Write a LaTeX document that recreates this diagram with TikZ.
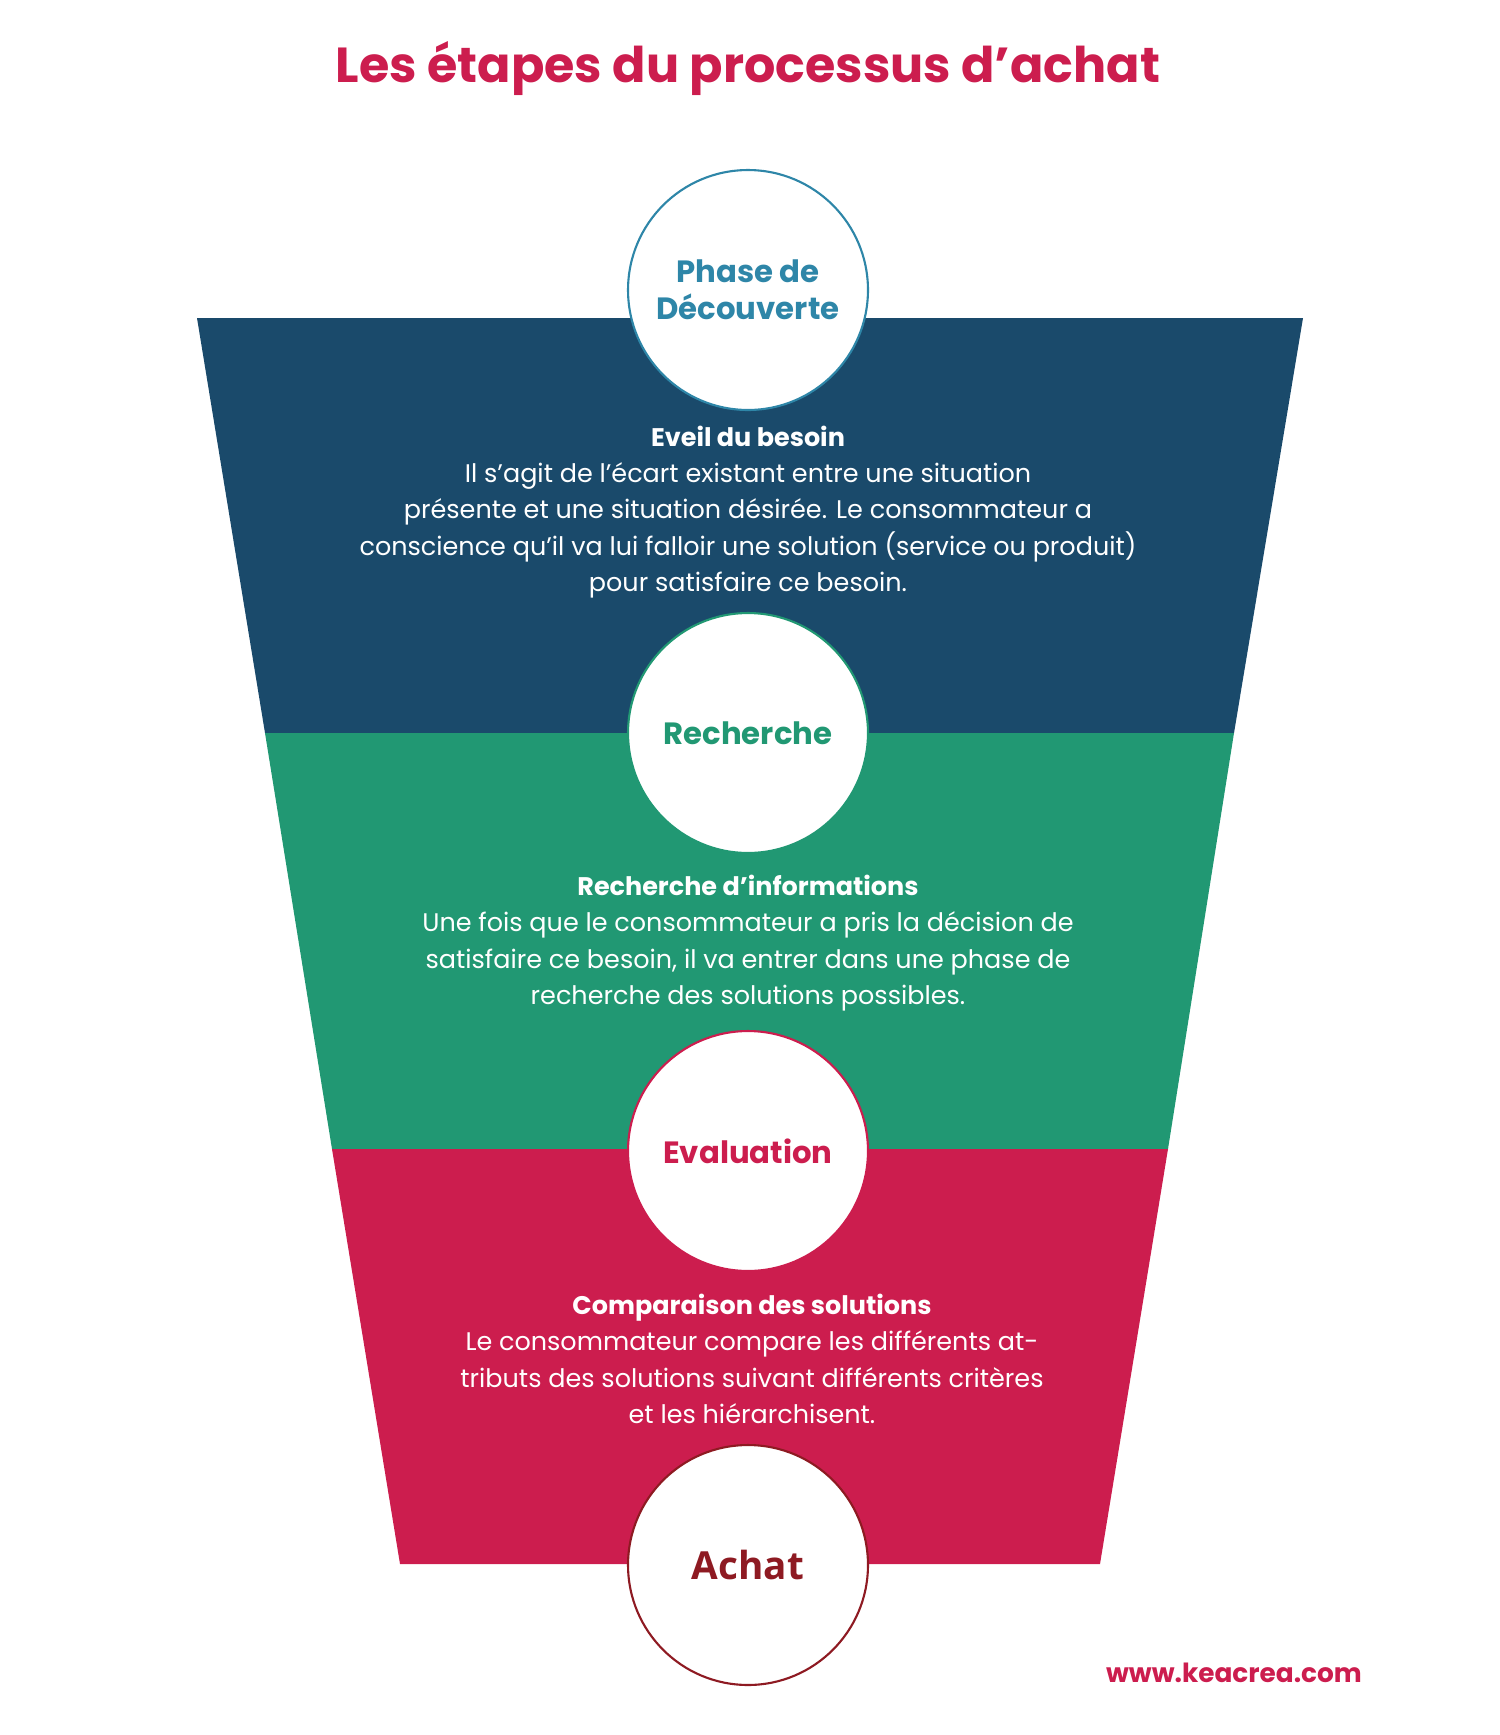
\documentclass[tikz,border=0pt]{standalone}
\usepackage{fontspec}
\setmainfont{Poppins}
\newfontfamily\achatfont{Open Sans}
\definecolor{navy}{HTML}{1A4A6B}
\definecolor{vert}{HTML}{219873}
\definecolor{rouge}{HTML}{CC1D4E}
\definecolor{bleu}{HTML}{2E86A8}
\definecolor{bordeaux}{HTML}{8E1A22}
\begin{document}
\begin{tikzpicture}[x=0.02cm,y=-0.02cm]
		\tikzstyle{phase}=[draw,shape=circle,fill=white,line width=1.2pt,minimum size=4.8cm,inner sep=0pt,align=center,font=\fontsize{17.5}{21}\selectfont\bfseries]
		\tikzstyle{corps}=[white,align=center,font=\fontsize{14.5}{20.7}\selectfont]
		
		\useasboundingbox (0,0) rectangle (1500,1735);
		
		% bandes de l'entonnoir
		\fill[navy] (197,318) -- (1303,318) -- (1234,733) -- (265,733) -- cycle;
		\fill[vert] (265,733) -- (1234,733) -- (1168,1149) -- (332,1149) -- cycle;
		\fill[rouge] (332,1149) -- (1168,1149) -- (1100,1564) -- (400,1564) -- cycle;
		
		\node[rouge,font=\fontsize{28}{32}\selectfont\bfseries](titre) at (748,69){Les étapes du processus d'achat};
		
		\node[phase,draw=bleu,text=bleu](p1) at (748,290){Phase de\\Découverte};
		\node[phase,draw=vert,text=vert](p2) at (748,733){Recherche};
		\node[phase,draw=rouge,text=rouge](p3) at (748,1151){Evaluation};
		\node[phase,draw=bordeaux,text=bordeaux,font=\fontsize{22}{26}\selectfont\achatfont\bfseries](p4) at (748,1565){Achat};
		
		\node[corps](t1) at (748,512){\textbf{Eveil du besoin}\\Il s'agit de l'écart existant entre une situation\\présente et une situation désirée. Le consommateur a\\conscience qu’il va lui falloir une solution (service ou produit)\\pour satisfaire ce besoin.};
		\node[corps](t2) at (748,943){\textbf{Recherche d’informations}\\Une fois que le consommateur a pris la décision de\\satisfaire ce besoin, il va entrer dans une phase de\\recherche des solutions possibles.};
		\node[corps](t3) at (752,1359){\textbf{Comparaison des solutions}\\Le consommateur compare les différents at-\\tributs des solutions suivant différents critères\\et les hiérarchisent.};
		
		\node[rouge,font=\fontsize{15}{18}\selectfont\bfseries](site) at (1234,1673){www.keacrea.com};
\end{tikzpicture}
\end{document}
